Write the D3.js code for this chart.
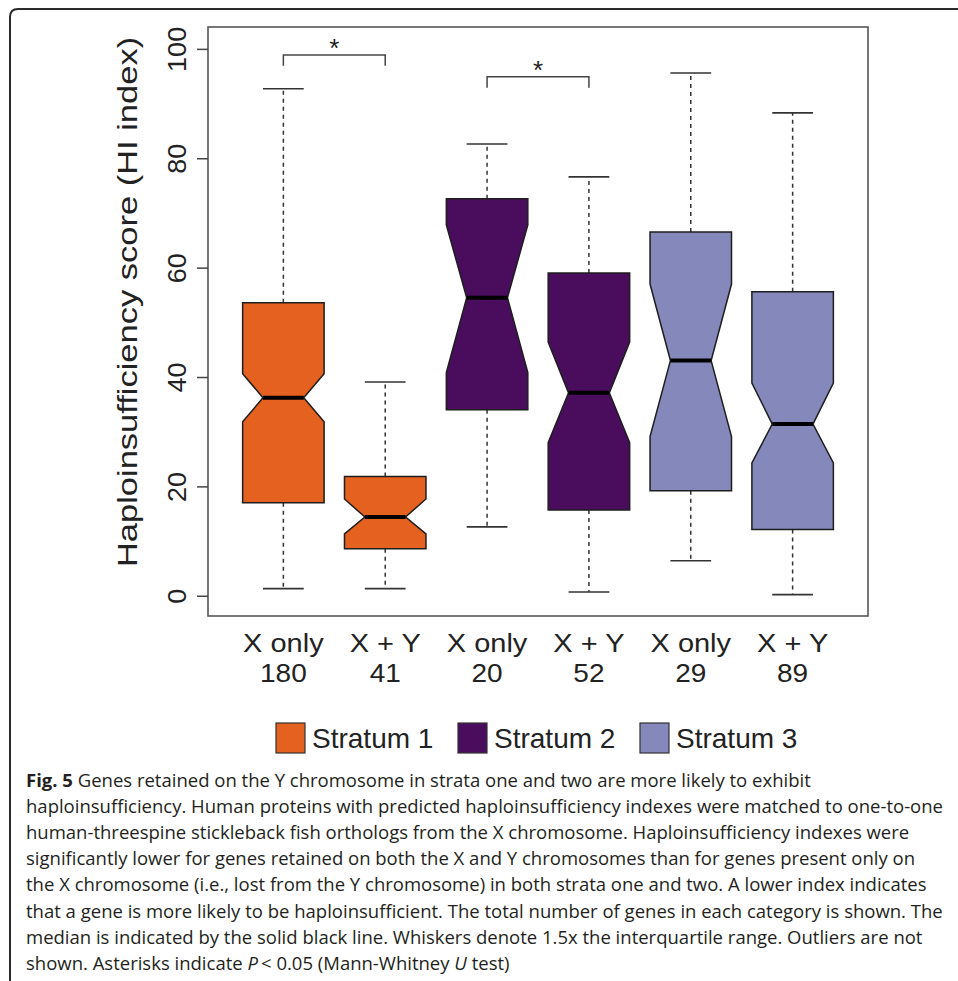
<!DOCTYPE html>
<html>
<head>
<meta charset="utf-8">
<script src="https://cdn.jsdelivr.net/npm/d3@7"></script>
<style>
  html, body { margin: 0; padding: 0; background: #fff; }
  svg { display: block; }
</style>
</head>
<body>
<svg id="chart" width="958" height="981"></svg>
<script>
// ---------------- data ----------------
const categories = ["X only", "X + Y", "X only", "X + Y", "X only", "X + Y"];
const counts = ["180", "41", "20", "52", "29", "89"];
const strata = ["Stratum 1", "Stratum 1", "Stratum 2", "Stratum 2", "Stratum 3", "Stratum 3"];
const whiskerLow  = [1.3, 1.3, 12.6, 0.7, 6.4, 0.2];
const q1          = [17.0, 8.6, 34.0, 15.7, 19.2, 12.1];
const notchLow    = [31.8, 11.3, 40.8, 28.0, 29.1, 24.3];
const median      = [36.2, 14.4, 54.5, 37.1, 43.0, 31.4];
const notchHigh   = [40.6, 17.7, 67.8, 46.4, 57.0, 38.9];
const q3          = [53.6, 21.8, 72.6, 59.0, 66.5, 55.6];
const whiskerHigh = [92.7, 39.1, 82.6, 76.6, 95.6, 88.3];
const strataNames = ["Stratum 1", "Stratum 2", "Stratum 3"];
const strataColors = ["#E4611F", "#4A0D5E", "#8488BA"];
const yTicks = [0, 20, 40, 60, 80, 100];
const bracketPairs = [[0, 1], [2, 3]];
const bracketLevels = [98.9, 94.9];
const bracketLabels = ["*", "*"];
const yLabel = "Haploinsufficiency score (HI index)";
const captionLines = [
  [["b", "Fig. 5"], ["n", " Genes retained on the Y chromosome in strata one and two are more likely to exhibit"]],
  [["n", "haploinsufficiency. Human proteins with predicted haploinsufficiency indexes were matched to one-to-one"]],
  [["n", "human-threespine stickleback fish orthologs from the X chromosome. Haploinsufficiency indexes were"]],
  [["n", "significantly lower for genes retained on both the X and Y chromosomes than for genes present only on"]],
  [["n", "the X chromosome (i.e., lost from the Y chromosome) in both strata one and two. A lower index indicates"]],
  [["n", "that a gene is more likely to be haploinsufficient. The total number of genes in each category is shown. The"]],
  [["n", "median is indicated by the solid black line. Whiskers denote 1.5x the interquartile range. Outliers are not"]],
  [["n", "shown. Asterisks indicate "], ["i", "P"], ["n", "\u2009< 0.05 (Mann-Whitney "], ["i", "U"], ["n", " test)"]]
];

// ---------------- layout ----------------
const svg = d3.select("#chart");
const plot = { left: 208, right: 868, top: 27, bottom: 616 };
const figFont = "'Liberation Sans', Arial, Helvetica, sans-serif";
const textCol = "#222";
const glyphSquash = 0.85; // figure glyphs are lower than Arial for the same width

const x = d3.scaleLinear().domain([0.26, 6.74]).range([plot.left, plot.right]);
const y = d3.scaleLinear().domain([-3.7, 104]).range([plot.bottom, plot.top]);
const color = d3.scaleOrdinal().domain(strataNames).range(strataColors);

// outer frame (rounded corner, top + left)
svg.append("path")
  .attr("d", "M10,990 L10,17 Q10,9 18,9 L970,9")
  .attr("fill", "none").attr("stroke", "#2a2a2a").attr("stroke-width", 2);

// boxes
const halfW = (x(1.4) - x(1));
const data = categories.map((c, i) => ({
  i, c, n: counts[i], s: strata[i],
  lo: whiskerLow[i], q1: q1[i], nl: notchLow[i], med: median[i], nh: notchHigh[i], q3: q3[i], hi: whiskerHigh[i]
}));

const g = svg.append("g");
const boxes = g.selectAll("g.box").data(data).join("g").attr("class", "box");

// whiskers (dashed)
boxes.append("line")
  .attr("x1", d => x(d.i + 1)).attr("x2", d => x(d.i + 1))
  .attr("y1", d => y(d.q3)).attr("y2", d => y(d.hi))
  .attr("stroke", "#333").attr("stroke-width", 1.5).attr("stroke-dasharray", "4,4");
boxes.append("line")
  .attr("x1", d => x(d.i + 1)).attr("x2", d => x(d.i + 1))
  .attr("y1", d => y(d.q1)).attr("y2", d => y(d.lo))
  .attr("stroke", "#333").attr("stroke-width", 1.5).attr("stroke-dasharray", "4,4");
// caps
["hi", "lo"].forEach(k => {
  boxes.append("line")
    .attr("x1", d => x(d.i + 1) - halfW / 2).attr("x2", d => x(d.i + 1) + halfW / 2)
    .attr("y1", d => y(d[k])).attr("y2", d => y(d[k]))
    .attr("stroke", "#333").attr("stroke-width", 1.6);
});
// notched box polygon
boxes.append("path")
  .attr("d", d => {
    const cx = x(d.i + 1), w = halfW, w2 = halfW / 2;
    const pts = [
      [cx - w, y(d.q1)], [cx - w, y(d.nl)], [cx - w2, y(d.med)], [cx - w, y(d.nh)], [cx - w, y(d.q3)],
      [cx + w, y(d.q3)], [cx + w, y(d.nh)], [cx + w2, y(d.med)], [cx + w, y(d.nl)], [cx + w, y(d.q1)]
    ];
    return d3.line()(pts) + "Z";
  })
  .attr("fill", d => color(d.s))
  .attr("stroke", "#1e1e1e").attr("stroke-width", 1.5).attr("stroke-linejoin", "miter");
// median
boxes.append("line")
  .attr("x1", d => x(d.i + 1) - halfW / 2).attr("x2", d => x(d.i + 1) + halfW / 2)
  .attr("y1", d => y(d.med)).attr("y2", d => y(d.med))
  .attr("stroke", "#000").attr("stroke-width", 4);

// plot frame
svg.append("rect")
  .attr("x", plot.left).attr("y", plot.top)
  .attr("width", plot.right - plot.left).attr("height", plot.bottom - plot.top)
  .attr("fill", "none").attr("stroke", "#555").attr("stroke-width", 1.6);

// y axis
const yAxis = svg.append("g")
  .attr("transform", `translate(${plot.left},0)`)
  .call(d3.axisLeft(y).tickValues(yTicks).tickSize(11).tickSizeOuter(0).tickPadding(0));
yAxis.select(".domain").remove();
yAxis.selectAll(".tick line").attr("stroke", "#444").attr("stroke-width", 1.5);
yAxis.selectAll(".tick text")
  .attr("x", 0).attr("y", 0).attr("dy", 0)
  .attr("transform", "translate(-22,0) rotate(-90) scale(1,0.95)")
  .attr("text-anchor", "middle")
  .attr("font-family", figFont).attr("font-size", 27).attr("fill", textCol);

// y label
svg.append("text")
  .attr("transform", `translate(137,302) rotate(-90) scale(1,${0.82})`)
  .attr("text-anchor", "middle")
  .attr("font-family", figFont).attr("font-size", 34.5).attr("fill", textCol)
  .text(yLabel);

// x labels
const xl = svg.append("g");
xl.selectAll("text.cat").data(data).join("text").attr("class", "cat")
  .attr("transform", d => `translate(${x(d.i + 1)},652) scale(1,${glyphSquash + 0.03})`)
  .attr("text-anchor", "middle").attr("font-family", figFont).attr("font-size", 29).attr("fill", textCol)
  .text(d => d.c);
xl.selectAll("text.cnt").data(data).join("text").attr("class", "cnt")
  .attr("transform", d => `translate(${x(d.i + 1)},682) scale(1,${glyphSquash + 0.05})`)
  .attr("text-anchor", "middle").attr("font-family", figFont).attr("font-size", 28).attr("fill", textCol)
  .text(d => d.n);

// significance brackets
const br = svg.append("g");
bracketPairs.forEach((p, k) => {
  const x1 = x(p[0] + 1), x2 = x(p[1] + 1);
  const yl = y(bracketLevels[k]), yd = y(bracketLevels[k] - 2);
  br.append("path")
    .attr("d", `M${x1},${yd} L${x1},${yl} L${x2},${yl} L${x2},${yd}`)
    .attr("fill", "none").attr("stroke", "#444").attr("stroke-width", 1.5);
  br.append("text")
    .attr("x", (x1 + x2) / 2).attr("y", yl + 2)
    .attr("text-anchor", "middle").attr("font-family", figFont).attr("font-size", 26).attr("fill", textCol)
    .text(bracketLabels[k]);
});

// legend
const legend = svg.append("g");
const legX = d3.scaleLinear().domain([0, 1]).range([276, 458]);
strataNames.forEach((s, k) => {
  const lx = legX(k);
  legend.append("rect")
    .attr("x", lx).attr("y", 723).attr("width", 29).attr("height", 30)
    .attr("fill", color(s)).attr("stroke", "#333").attr("stroke-width", 1.2);
  legend.append("text")
    .attr("x", lx + 36).attr("y", 748)
    .attr("font-family", figFont).attr("font-size", 28).attr("fill", textCol)
    .text(s);
});

// caption
const cap = svg.append("g");
captionLines.forEach((line, li) => {
  const t = cap.append("text")
    .attr("x", 26).attr("y", 786.5 + li * 26.2)
    .attr("font-family", "'Open Sans', 'Noto Sans', sans-serif")
    .attr("font-size", 18.5).attr("fill", "#231f20");
  line.forEach(([style, str]) => {
    const ts = t.append("tspan").text(str);
    if (style === "b") ts.attr("font-weight", "bold");
    if (style === "i") ts.attr("font-style", "italic");
  });
});
</script>
</body>
</html>
